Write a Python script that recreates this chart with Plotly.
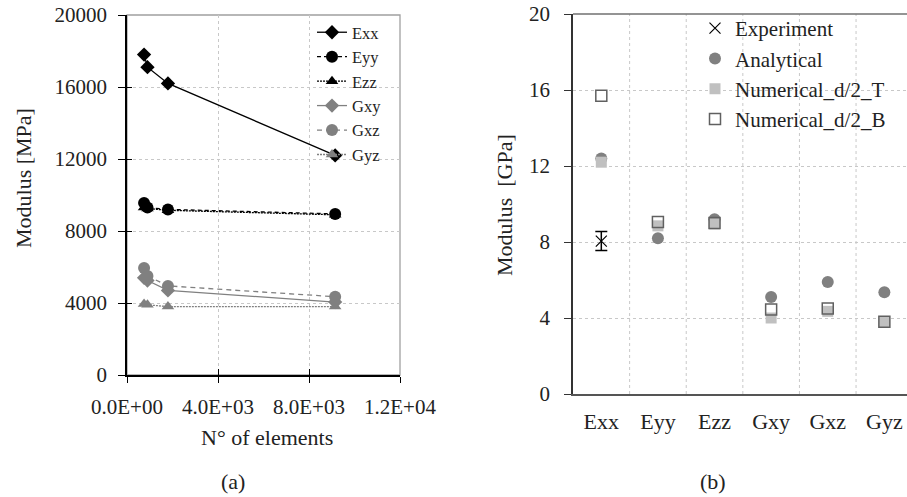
import plotly.graph_objects as go

# ---- (a) convergence of moduli with mesh size ----
elements = [750, 900, 1800, 9150]
Exx = [17800, 17100, 16200, 12200]
Eyy = [9550, 9300, 9200, 8950]
Ezz = [9300, 9250, 9150, 8900]
Gxy = [5400, 5250, 4700, 4050]
Gxz = [5950, 5500, 4950, 4350]
Gyz = [3950, 3900, 3800, 3800]

x_tickvals = [0, 4000, 8000, 12000]
x_ticktext = ["0.0E+00", "4.0E+03", "8.0E+03", "1.2E+04"]
y_tickvals_a = [0, 4000, 8000, 12000, 16000, 20000]

# ---- (b) comparison of moduli [GPa] ----
components = ["Exx", "Eyy", "Ezz", "Gxy", "Gxz", "Gyz"]
experiment = [8.05, None, None, None, None, None]
experiment_err = [0.5, 0, 0, 0, 0, 0]
analytical = [12.4, 8.2, 9.2, 5.1, 5.9, 5.35]
numerical_T = [12.2, 8.85, 8.95, 4.0, 4.35, 3.8]
numerical_B = [15.7, 9.05, 9.0, 4.45, 4.5, 3.8]
y_tickvals_b = [0, 4, 8, 12, 16, 20]

FONT = "Liberation Serif"
TEXT = "#222222"
BLACK = "#000000"
GREY = "#808080"
LIGHT = "#c0c0c0"
GRID = "#c8c8c8"

fig = go.Figure()

series_a = [
    ("Exx", Exx, BLACK, "diamond", "solid", 11),
    ("Eyy", Eyy, BLACK, "circle", "4px,3px", 12),
    ("Ezz", Ezz, BLACK, "triangle-up", "2px,1px", 11),
    ("Gxy", Gxy, GREY, "diamond", "solid", 11),
    ("Gxz", Gxz, GREY, "circle", "5px,4px", 12),
    ("Gyz", Gyz, GREY, "triangle-up", "2px,1px", 11),
]
for name, vals, col, sym, dash, size in series_a:
    fig.add_trace(go.Scatter(
        x=elements, y=vals, name=name, mode="lines+markers",
        line=dict(color=col, width=1.3, dash=dash),
        marker=dict(symbol=sym, size=size, color=col),
        xaxis="x", yaxis="y", legend="legend",
    ))

# empty trace that carries the inner half of the crossing tick marks of panel (a)
fig.add_trace(go.Scatter(x=[], y=[], xaxis="x3", yaxis="y3",
                         showlegend=False, hoverinfo="skip"))

fig.add_trace(go.Scatter(
    x=components, y=experiment, name="Experiment", mode="markers",
    marker=dict(symbol="x-thin", size=11, line=dict(color=BLACK, width=1.2)),
    error_y=dict(type="data", array=experiment_err, color=BLACK,
                 thickness=1.5, width=6),
    xaxis="x2", yaxis="y2", legend="legend2",
))
fig.add_trace(go.Scatter(
    x=components, y=analytical, name="Analytical", mode="markers",
    marker=dict(symbol="circle", size=12, color=GREY),
    xaxis="x2", yaxis="y2", legend="legend2",
))
fig.add_trace(go.Scatter(
    x=components, y=numerical_T, name="Numerical_d/2_T", mode="markers",
    marker=dict(symbol="square", size=11, color=LIGHT),
    xaxis="x2", yaxis="y2", legend="legend2",
))
fig.add_trace(go.Scatter(
    x=components, y=numerical_B, name="Numerical_d/2_B", mode="markers",
    marker=dict(symbol="square-open", size=11,
                line=dict(color="#606060", width=1.5), color="#606060"),
    xaxis="x2", yaxis="y2", legend="legend2",
))

W, H = 907, 497
tick_font = dict(family=FONT, size=21, color=TEXT)
dom_xa = [127 / W, 400 / W]
dom_ya = [1 - 375 / H, 1 - 15 / H]

fig.update_layout(
    width=W, height=H,
    margin=dict(l=0, r=0, t=0, b=0, autoexpand=False),
    paper_bgcolor="white", plot_bgcolor="white",
    font=dict(family=FONT, color=TEXT),
    xaxis=dict(
        domain=dom_xa, range=[0, 12000], anchor="y",
        tickvals=x_tickvals, ticktext=x_ticktext, automargin=False,
        showline=True, linecolor=BLACK, linewidth=1.5,
        ticks="outside", ticklen=6, tickcolor=BLACK, tickwidth=1.3,
        ticklabelstandoff=6,
        showgrid=True, gridcolor=GRID, griddash="dot", gridwidth=1,
        zeroline=False, tickfont=tick_font,
    ),
    yaxis=dict(
        domain=dom_ya, range=[0, 20000], anchor="x",
        tickvals=y_tickvals_a, tickformat="d", automargin=False,
        showline=True, linecolor=BLACK, linewidth=1.5,
        ticks="outside", ticklen=7, tickcolor=BLACK, tickwidth=1.3,
        ticklabelstandoff=7,
        showgrid=True, gridcolor=GRID, griddash="dot", gridwidth=1,
        zeroline=False, tickfont=tick_font,
    ),
    xaxis3=dict(
        overlaying="x", anchor="y3", range=[0, 12000], tickvals=x_tickvals,
        ticks="inside", ticklen=6, tickcolor=BLACK, tickwidth=1.3,
        showticklabels=False, showgrid=False, showline=False, zeroline=False,
        automargin=False,
    ),
    yaxis3=dict(
        overlaying="y", anchor="x3", range=[0, 20000], tickvals=y_tickvals_a,
        ticks="inside", ticklen=5, tickcolor=BLACK, tickwidth=1.3,
        showticklabels=False, showgrid=False, showline=False, zeroline=False,
        automargin=False,
    ),
    xaxis2=dict(
        domain=[573 / W, 1.0], range=[-0.5, 5.4], anchor="y2",
        type="category", categoryorder="array", categoryarray=components,
        automargin=False,
        showline=True, linecolor="#555555", linewidth=1.5,
        ticks="", ticklabelstandoff=7,
        showgrid=False, zeroline=False,
        tickfont=dict(family=FONT, size=22, color=TEXT),
    ),
    yaxis2=dict(
        domain=[1 - 394 / H, 1 - 14 / H], range=[0, 20], anchor="x2",
        tickvals=y_tickvals_b, automargin=False,
        showline=True, linecolor="#333333", linewidth=1.5,
        ticks="outside", ticklen=7, tickcolor="#333333", tickwidth=1.3,
        ticklabelstandoff=10,
        showgrid=True, gridcolor=GRID, griddash="dot", gridwidth=1,
        zeroline=False, tickfont=tick_font,
    ),
    legend=dict(
        x=312 / W, y=1 - 15 / H, xanchor="left", yanchor="top",
        bgcolor="rgba(0,0,0,0)", font=dict(family=FONT, size=16.5, color=TEXT),
        tracegroupgap=0, itemclick=False,
    ),
    legend2=dict(
        x=695 / W, y=1 - 8 / H, xanchor="left", yanchor="top",
        bgcolor="rgba(0,0,0,0)", font=dict(family=FONT, size=21, color=TEXT),
        tracegroupgap=0, itemclick=False,
    ),
    showlegend=True,
)

# category separators for panel (b)
for i in range(len(components) - 1):
    fig.add_shape(type="line", xref="x2", yref="y2 domain",
                  x0=i + 0.5, x1=i + 0.5, y0=0, y1=1,
                  line=dict(color=GRID, width=1, dash="dot"), layer="below")

# grey frame around panel (a) and top edge of panel (b)
fig.add_shape(type="rect", xref="x domain", yref="y domain",
              x0=0, x1=1, y0=0, y1=1, line=dict(color="#a0a0a0", width=1.3), layer="below")
fig.add_shape(type="line", xref="x2 domain", yref="y2 domain",
              x0=0, x1=1, y0=1, y1=1, line=dict(color="#707070", width=1.3), layer="below")

ann_font = dict(family=FONT, size=22, color=TEXT)
labels = [
    ("Modulus [MPa]", 23, 178, -90),
    ("Modulus  [GPa]", 505, 205, -90),
    ("N° of elements", 267, 437, 0),
    ("(a)", 233, 481, 0),
    ("(b)", 713, 481, 0),
]
for text, px, py, ang in labels:
    fig.add_annotation(text=text, x=px / W, y=1 - py / H, xref="paper", yref="paper",
                       xanchor="center", yanchor="middle",
                       textangle=ang, showarrow=False, font=ann_font)

fig.write_html("out.html")
